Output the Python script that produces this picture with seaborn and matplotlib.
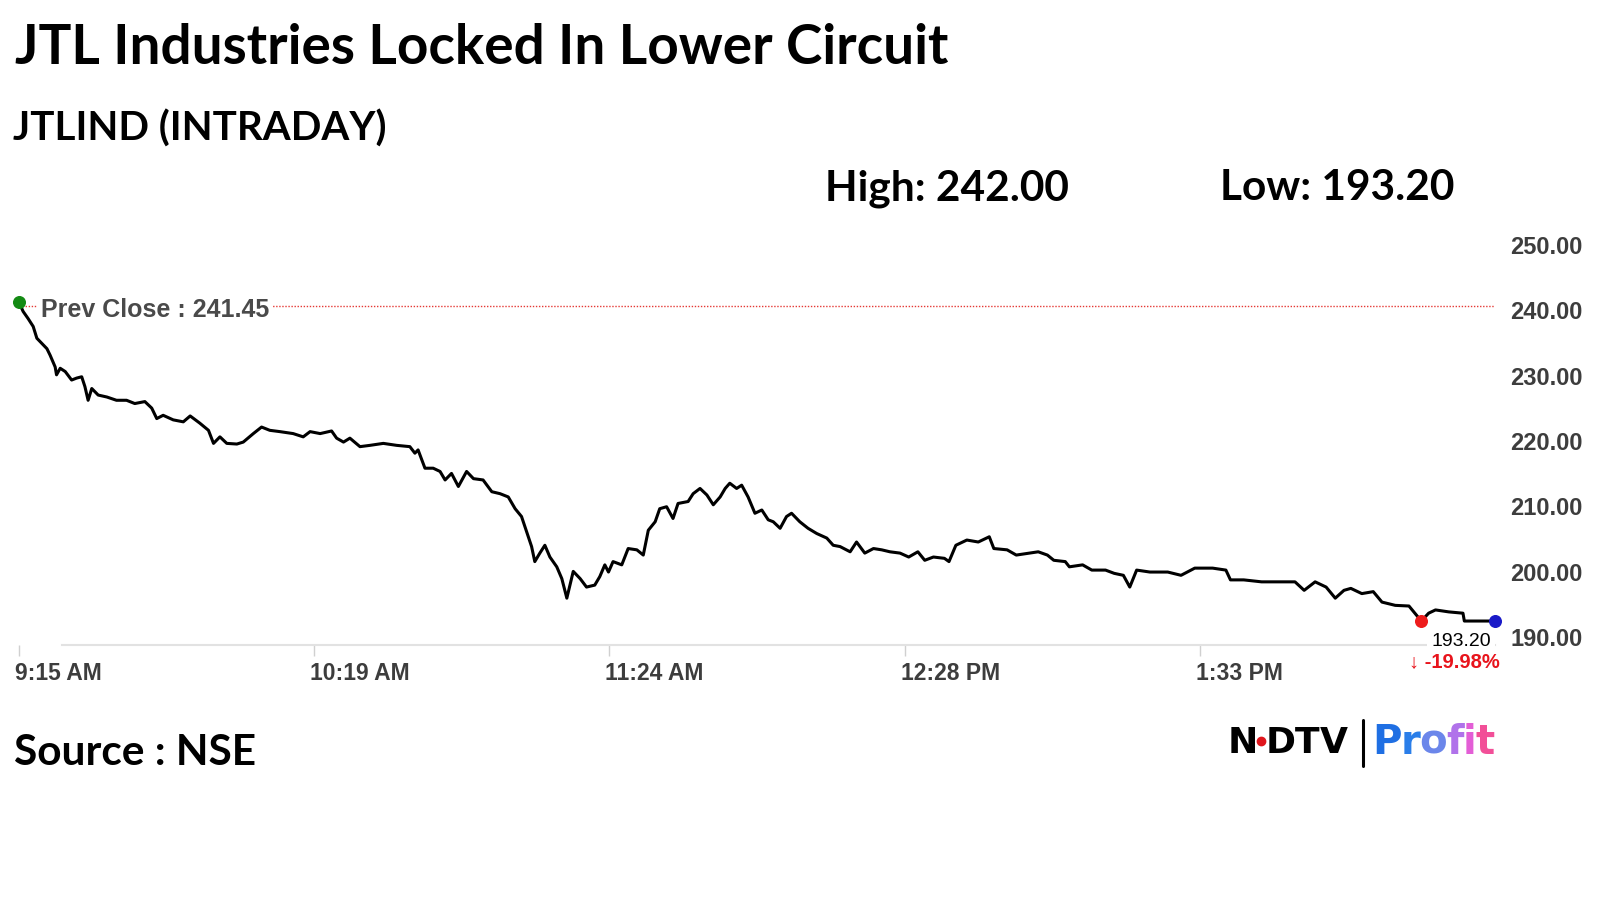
import numpy as np
import pandas as pd
import matplotlib
matplotlib.use('Agg')
import matplotlib.pyplot as plt
import matplotlib.transforms as mtransforms
import seaborn as sns

# minutes after 9:15 AM and traded price
minutes = [0, 0.9, 2.0, 3.1, 3.9, 5.0, 6.1, 6.8, 7.9, 8.2,
           9.0, 10.1, 11.5, 12.6, 13.7, 14.4, 15.1, 15.9, 17.3, 19.2,
           21.3, 23.5, 25.3, 27.5, 29.0, 30.1, 31.5, 33.7, 35.9, 37.4,
           39.5, 41.4, 42.5, 43.9, 45.4, 47.6, 49.0, 51.2, 53.0, 54.8,
           57.0, 59.9, 62.1,
           63.6, 65.8, 68.3, 69.4, 70.9, 72.3, 74.5, 76.7, 79.6, 82.5,
           85.4, 86.5, 87.2, 88.7, 90.5, 92.0, 93.1, 94.5, 96.0, 97.8,
           99.3, 101.4, 103.3, 105.1, 106.9, 108.4, 109.8, 110.9, 112.0, 112.7,
           113.8, 114.9, 116.0, 117.5, 118.6, 119.7, 121.1, 122.6, 124.0, 125.8,
           126.9, 128.0, 128.8, 129.8, 131.7, 133.1, 135.0, 136.4, 137.5, 139.0,
           140.0, 141.5, 142.9, 144.0, 146.2, 147.3, 148.8, 150.3, 151.7, 153.2,
           154.3, 155.3, 156.8, 157.9, 159.3, 160.8, 162.3, 163.7, 164.8, 166.3,
           167.7, 168.8, 170.6, 172.4, 174.3, 176.5, 177.9, 179.4, 181.6, 183.0,
           184.8, 186.7, 188.5, 190.3,
           192.5, 194.4, 196.4, 197.9, 199.8, 202.2, 203.2, 204.7, 207.1, 209.6,
           212.0, 213.0, 215.9, 217.9, 220.8, 222.7, 224.7, 226.1, 228.6, 229.5,
           232.4, 234.4, 237.4, 239.3, 241.3, 242.7, 244.2, 247.1, 251.0, 253.9,
           256.9, 260.8, 263.7, 264.7, 267.6, 271.5, 275.4, 278.8, 280.8, 283.2,
           285.6, 287.6, 289.5, 291.0, 293.4, 295.9, 297.8, 300.7, 303.7, 305.6,
           306.4, 308.0, 309.5, 312.4, 315.5, 315.8, 322.5]
price = [242.0, 240.6, 239.5, 238.3, 236.5, 235.7, 234.9, 233.9, 232.1, 230.9,
         231.9, 231.4, 230.1, 230.4, 230.6, 229.1, 227.0, 228.8, 227.8, 227.5,
         227.0, 227.0, 226.5, 226.8, 225.8, 224.2, 224.7, 224.0, 223.7, 224.6,
         223.5, 222.4, 220.4, 221.4, 220.4, 220.3, 220.6, 221.9, 222.9, 222.4,
         222.2, 221.9, 221.4,
         222.2, 221.9, 222.3, 221.2, 220.6, 221.2, 219.9, 220.1, 220.4, 220.1,
         219.9, 218.9, 219.4, 216.6, 216.6, 216.1, 214.8, 215.8, 213.8, 216.1,
         215.0, 214.8, 213.0, 212.7, 212.2, 210.4, 209.2, 206.9, 204.6, 202.3,
         203.6, 204.8, 203.0, 201.5, 199.7, 196.7, 200.8, 199.7, 198.4, 198.7,
         200.0, 201.8, 200.7, 202.3, 201.8, 204.3, 204.1, 203.3, 207.1, 208.4,
         210.4, 210.7, 208.9, 211.2, 211.5, 212.7, 213.5, 212.5, 211.0, 212.2,
         213.5, 214.3, 213.5, 214.0, 212.2, 209.7, 210.2, 208.7, 208.4, 207.4,
         209.2, 209.7, 208.4, 207.4, 206.6, 205.9, 204.8, 204.6, 203.8, 205.3,
         203.6, 204.3, 204.1, 203.8,
         203.6, 203.0, 203.8, 202.5, 203.0, 202.8, 202.3, 204.8, 205.6, 205.3,
         206.1, 204.3, 204.1, 203.3, 203.6, 203.8, 203.3, 202.5, 202.3, 201.5,
         201.8, 201.0, 201.0, 200.5, 200.2, 198.4, 201.0, 200.7, 200.7, 200.2,
         201.3, 201.3, 201.0, 199.5, 199.5, 199.2, 199.2, 199.2, 197.9, 199.2,
         198.4, 196.7, 197.9, 198.2, 197.4, 197.7, 196.1, 195.6, 195.5, 193.9,
         193.2, 194.4, 194.9, 194.6, 194.4, 193.2, 193.2]

prev_close = 241.45
day_high = 242.00
day_low = 193.20
last_price = 193.20

tick_minutes = [0, 64.5, 129, 193.5, 258]
tick_labels = ['9:15 AM', '10:19 AM', '11:24 AM', '12:28 PM', '1:33 PM']
y_ticks = [190, 200, 210, 220, 230, 240, 250]

df = pd.DataFrame({'minute': minutes, 'price': price})
low_idx = int(np.argmin(df['price'].values))

sns.set_style('white')
plt.rcParams['font.family'] = ['Liberation Sans', 'DejaVu Sans']
plt.rcParams['text.color'] = 'black'

fig = plt.figure(figsize=(16, 9), dpi=100)
ax = fig.add_axes([19 / 1600, 1 - 645 / 900, (1495 - 19) / 1600, (645 - 237) / 900])

sns.lineplot(data=df, x='minute', y='price', color='black', linewidth=2.2, ax=ax)

ax.axhline(prev_close, color='#e53935', linewidth=1.0, linestyle=(0, (1, 1.2)))

# markers: open, day low, last traded
ax.scatter([df['minute'].iloc[0]], [df['price'].iloc[0]], s=70, color='#138a13', zorder=5, clip_on=False)
ax.scatter([df['minute'].iloc[low_idx]], [df['price'].iloc[low_idx]], s=70, color='#ee1c1c', zorder=5, clip_on=False)
ax.scatter([df['minute'].iloc[-1]], [df['price'].iloc[-1]], s=70, color='#1a1ac8', zorder=5, clip_on=False)

ax.set_xlim(0, 322.5)
ax.set_ylim(189.53, 252)
ax.set_xlabel('')
ax.set_ylabel('')

for s in ['top', 'left', 'right']:
    ax.spines[s].set_visible(False)
ax.spines['bottom'].set_color('#e2e2e2')
ax.spines['bottom'].set_linewidth(1.5)
ax.spines['bottom'].set_bounds(9.4, 322.5)

ax.set_xticks(tick_minutes)
ax.set_xticklabels(tick_labels, ha='left', fontsize=16.5, fontweight='bold', color='#3d3d3d')
ax.tick_params(axis='x', length=8, width=1, color='#d0d0d0', pad=4, bottom=True)
for lab in ax.get_xticklabels():
    lab.set_transform(lab.get_transform() + mtransforms.ScaledTranslation(-0.04, 0, fig.dpi_scale_trans))

ax.yaxis.tick_right()
ax.set_yticks(y_ticks)
ax.set_yticklabels([f'{v:.2f}' for v in y_ticks], fontsize=17, fontweight='bold', color='#3d3d3d')
ax.tick_params(axis='y', length=0, pad=11)
for lab in ax.get_yticklabels():
    lab.set_transform(lab.get_transform() + mtransforms.ScaledTranslation(0, 0.05, fig.dpi_scale_trans))

ax.annotate(f'Prev Close : {prev_close:.2f}', xy=(0, prev_close), xytext=(22, -4),
            textcoords='offset pixels', ha='left', va='center', fontsize=18,
            fontweight='bold', color='#4a4a4a',
            bbox=dict(boxstyle='square,pad=0.15', fc='white', ec='none'))

pct = (last_price - prev_close) / prev_close * 100
ax.annotate(f'{last_price:.2f}', xy=(df['minute'].iloc[-1], last_price), xytext=(-34, -20),
            textcoords='offset pixels', ha='center', va='center', fontsize=14,
            color='black', annotation_clip=False,
            bbox=dict(boxstyle='square,pad=0.2', fc='white', ec='none'))
ax.annotate(f'\u2193 {pct:.2f}%', xy=(df['minute'].iloc[-1], last_price), xytext=(-41, -41),
            textcoords='offset pixels', ha='center', va='center', fontsize=14.5,
            fontweight='bold', color='#e8141c', annotation_clip=False,
            family=['Liberation Sans', 'DejaVu Sans'])

head = ['Lato', 'DejaVu Sans']
fig.text(15 / 1600, 1 - 64 / 900, 'JTL Industries Locked In Lower Circuit', fontsize=39.5,
         fontweight='bold', family=head, va='baseline', color='black')
fig.text(13 / 1600, 1 - 141 / 900, 'JTLIND (INTRADAY)', fontsize=29,
         fontweight='bold', family=head, va='baseline', color='black')
fig.text(825 / 1600, 1 - 200 / 900, f'High: {day_high:.2f}', fontsize=30.5,
         fontweight='bold', family=head, va='baseline', color='black')
fig.text(1220 / 1600, 1 - 200 / 900, f'Low: {day_low:.2f}', fontsize=30.5,
         fontweight='bold', family=head, va='baseline', color='black')
fig.text(14 / 1600, 1 - 765 / 900, 'Source : NSE', fontsize=30.5,
         fontweight='bold', family=head, va='baseline', color='black')

# NDTV Profit wordmark
for ch, lx in zip('NDTV', [1228, 1266, 1295, 1320]):
    fig.text(lx / 1600, 1 - 743 / 900, ch, fontsize=26, fontweight='heavy',
             family=['DejaVu Sans'], va='center', ha='left', color='black')
fig.lines.append(plt.Line2D([1261 / 1600], [1 - 741 / 900], transform=fig.transFigure,
                            marker='o', markersize=6, color='#e0161c', linestyle='none'))
fig.lines.append(plt.Line2D([1363 / 1600, 1363 / 1600], [1 - 720 / 900, 1 - 766 / 900],
                            transform=fig.transFigure, color='black', linewidth=2.2))

# gradient "Profit": one letter at a time, each placed after the previous one's extent
profit_colors = ['#1f6fe3', '#2a7ee9', '#6b86ea', '#b072ea', '#e35ed6', '#f24f98']
renderer = fig.canvas.get_renderer()
px = 1372
for ch, col in zip('Profit', profit_colors):
    t = fig.text(px / 1600, 1 - 743 / 900, ch, fontsize=29, fontweight='bold',
                 family=['DejaVu Sans'], va='center', ha='left', color=col)
    px = t.get_window_extent(renderer).x1 - 1.0

fig.savefig('out.png', dpi=100, facecolor='white')
